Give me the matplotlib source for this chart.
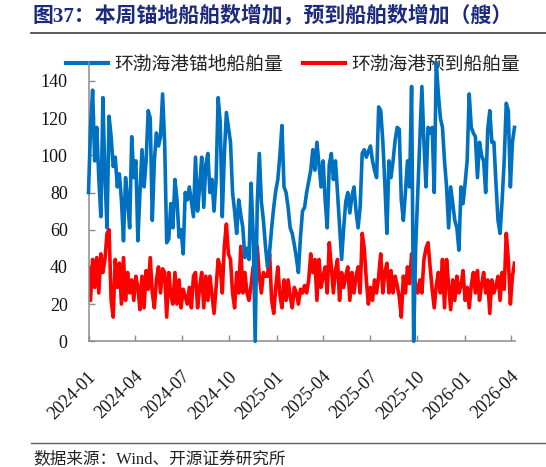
import matplotlib
matplotlib.use("Agg")
import matplotlib.pyplot as plt
import matplotlib.dates as mdates
from matplotlib.lines import Line2D
from matplotlib.transforms import ScaledTranslation
import pandas as pd

plt.rcParams['font.family'] = ['Liberation Serif', 'Noto Sans CJK SC']

# data, one value every 4 days from 2024-01-01
start = "2024-01-01"
anchor = [80, 115, 135, 97, 115, 88, 67, 131, 88, 61,
          121, 110, 94, 99, 83, 90, 76, 54, 88, 76,
          61, 110, 88, 97, 54, 80, 103, 83, 97, 124,
          120, 65, 97, 112, 105, 110, 133, 107, 53, 55,
          74, 61, 87, 76, 56, 60, 47, 80, 76, 83,
          75, 67, 99, 70, 83, 99, 72, 95, 101, 80,
          87, 70, 87, 131, 118, 67, 100, 123, 115, 107,
          80, 70, 58, 76, 68, 61, 45, 50, 44, 85,
          58, 0, 74, 101, 75, 65, 51, 40, 48, 61,
          72, 81, 87, 100, 116, 83, 80, 72, 61, 58,
          52, 45, 37, 56, 70, 72, 80, 86, 92, 103,
          92, 107, 95, 83, 97, 76, 61, 95, 101, 87,
          97, 80, 62, 44, 61, 75, 80, 69, 78, 83,
          70, 61, 72, 101, 103, 99, 102, 105, 97, 92,
          88, 126, 124, 108, 85, 58, 97, 88, 97, 108,
          115, 114, 76, 65, 80, 97, 83, 137, 0, 51,
          80, 110, 137, 107, 83, 115, 112, 115, 80, 150,
          133, 120, 115, 97, 83, 61, 83, 74, 65, 61,
          49, 83, 74, 85, 97, 133, 115, 112, 110, 88,
          107, 100, 97, 80, 114, 124, 107, 107, 85, 65,
          58, 76, 97, 128, 124, 83, 107, 115]
arrive = [40, 22, 44, 29, 45, 26, 47, 37, 44, 58,
          60, 22, 13, 44, 29, 42, 20, 45, 22, 37,
          26, 33, 22, 35, 29, 17, 35, 18, 38, 28,
          45, 26, 18, 33, 40, 26, 39, 37, 13, 37,
          25, 20, 37, 20, 33, 18, 28, 24, 20, 29,
          18, 35, 37, 18, 29, 37, 18, 35, 22, 35,
          25, 15, 29, 44, 40, 26, 51, 63, 47, 44,
          26, 18, 37, 26, 51, 26, 37, 26, 22, 30,
          40, 29, 51, 35, 26, 37, 35, 35, 47, 22,
          15, 29, 40, 25, 18, 33, 22, 33, 24, 18,
          29, 26, 20, 28, 26, 30, 26, 33, 47, 37,
          44, 22, 44, 29, 35, 40, 26, 53, 40, 26,
          38, 44, 22, 37, 29, 35, 40, 22, 37, 26,
          35, 40, 26, 58, 50, 33, 20, 29, 22, 33,
          26, 35, 47, 26, 37, 42, 26, 38, 26, 35,
          30, 24, 13, 35, 26, 40, 31, 47, 37, 30,
          26, 33, 26, 44, 50, 53, 40, 28, 18, 30,
          37, 26, 44, 18, 44, 30, 17, 33, 22, 35,
          26, 30, 38, 22, 29, 18, 30, 37, 26, 38,
          22, 30, 37, 26, 33, 15, 33, 26, 30, 35,
          22, 37, 28, 58, 44, 20, 35, 42]
dates = pd.date_range(start, periods=len(anchor), freq="4D")

names = ["环渤海港锚地船舶量", "环渤海港预到船舶量"]
colors = ["#0070C0", "#FF0000"]
title = "图37：本周锚地船舶数增加，预到船舶数增加（艘）"
source = "数据来源：Wind、开源证券研究所"

W, H = 546, 467
fig = plt.figure(figsize=(W / 100, H / 100), dpi=100)
ax = fig.add_axes([88.5 / W, 1 - 341.3 / H, (515 - 88.5) / W, (341.3 - 62.3) / H])

ax.plot(dates, anchor, color=colors[0], lw=2.6, zorder=3, clip_on=False)
ax.plot(dates, arrive, color=colors[1], lw=2.6, zorder=2)

ax.set_ylim(0, 150)
ax.set_yticks(range(0, 141, 20))
ax.set_xlim(pd.Timestamp("2024-01-01"), pd.Timestamp("2026-04-09"))
ax.xaxis.set_major_locator(mdates.MonthLocator(bymonth=[1, 4, 7, 10]))
ax.xaxis.set_major_formatter(mdates.DateFormatter("%Y-%m"))

for s in ["top", "right"]:
    ax.spines[s].set_visible(False)
for s in ["left", "bottom"]:
    ax.spines[s].set_color("#8c8c8c")
    ax.spines[s].set_linewidth(1.1)

ax.tick_params(axis="both", direction="in", length=4, width=1, color="#8c8c8c",
               labelsize=13, labelcolor="#111111")
ax.tick_params(axis="y", pad=15)
ax.tick_params(axis="x", pad=15)
shift = ScaledTranslation(0.05, -0.12, fig.dpi_scale_trans)
for lbl in ax.get_xticklabels():
    lbl.set_rotation(45)
    lbl.set_ha("right")
    lbl.set_va("center")
    lbl.set_rotation_mode("anchor")
    lbl.set_transform(lbl.get_transform() + shift)

handles = [Line2D([], [], color=c, lw=3) for c in colors]
leg = ax.legend(handles, names, loc="center left", ncol=2, frameon=False,
                bbox_to_anchor=(66 / W, 1 - 64 / H), bbox_transform=fig.transFigure,
                handlelength=2.24, handletextpad=0.32, columnspacing=1.1,
                borderpad=0, borderaxespad=0,
                prop={"family": ["Noto Sans CJK SC"], "size": 13.5})
for t in leg.get_texts():
    t.set_color("#222222")
leg.set_zorder(1)

fig.text(33 / W, 1 - 16 / H, title, ha="left", va="center", fontsize=15,
         fontweight="bold", color="#1C2A7E")
fig.add_artist(Line2D([31 / W, 1], [1 - 32.5 / H] * 2, color="#404040", lw=1.2))
fig.add_artist(Line2D([31 / W, 1], [1 - 443 / H] * 2, color="#606060", lw=1.0))
fig.text(33 / W, 1 - 459 / H, source, ha="left", va="center", fontsize=12,
         color="#222222")

fig.savefig("out.png", dpi=100)
